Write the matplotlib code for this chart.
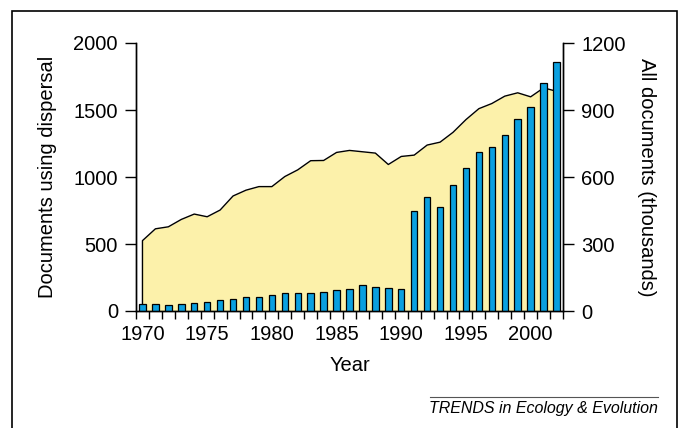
import numpy as np
import matplotlib
matplotlib.use("Agg")
import matplotlib.pyplot as plt
from matplotlib.patches import Rectangle
from matplotlib.lines import Line2D

plt.rcParams['font.family'] = ['Liberation Sans', 'DejaVu Sans']

# --- DATA ---
years = list(range(1970, 2003))
dispersal_docs = [55, 50, 45, 50, 57, 67, 85, 90, 102, 105, 122, 135, 135, 137,
                  145, 160, 167, 192, 180, 172, 162, 744, 854, 779, 941, 1064,
                  1184, 1224, 1316, 1431, 1523, 1705, 1860]
all_docs = [315, 368, 377, 410, 434, 422, 452, 515, 541, 557, 557, 602, 632,
            673, 674, 710, 719, 713, 707, 656, 692, 698, 743, 756, 800, 857,
            906, 929, 962, 977, 959, 999, 984]
tick_years = [1970, 1975, 1980, 1985, 1990, 1995, 2000]

FS = 14.5


def main():
    fig = plt.figure(figsize=(6.83, 4.28), dpi=100)
    ax = fig.add_axes([136 / 683, 1 - 311 / 428, 427 / 683, 268 / 428])
    ax2 = ax.twinx()

    # area (right axis) drawn behind bars
    ax2.set_zorder(0)
    ax.set_zorder(1)
    ax.patch.set_visible(False)
    ax2.fill_between(years, all_docs, 0, color='#fcf1aa', linewidth=0)
    ax2.plot([years[0]] + years, [0] + all_docs, color='black', linewidth=1.0)
    ax2.set_ylim(0, 1200)
    ax2.set_yticks([0, 300, 600, 900, 1200])

    # bars (left axis)
    ax.bar(years, dispersal_docs, width=0.5, color='#0aa0e0',
           edgecolor='black', linewidth=0.9)
    ax.set_ylim(0, 2000)
    ax.set_yticks([0, 500, 1000, 1500, 2000])
    ax.set_xlim(1969.5, 2002.5)

    # ticks at year boundaries, labels at year centres
    ax.set_xticks(np.arange(1969.5, 2003, 1.0))
    ax.set_xticklabels([])
    ax.set_xticks(tick_years, minor=True)
    ax.set_xticklabels([str(y) for y in tick_years], minor=True)
    ax.tick_params(axis='x', which='major', length=6, width=1, direction='out')
    ax.tick_params(axis='x', which='minor', length=0, labelsize=FS, pad=10)
    ax.tick_params(axis='y', length=8, width=1, labelsize=FS, pad=5)
    ax2.tick_params(axis='y', length=8, width=1, labelsize=FS, pad=5)

    for a in (ax, ax2):
        a.spines['top'].set_visible(False)
        for s in ('left', 'right', 'bottom'):
            a.spines[s].set_linewidth(1.0)

    ax.set_xlabel("Year", fontsize=FS, labelpad=9)
    ax.set_ylabel("Documents using dispersal", fontsize=FS, labelpad=12)
    ax2.set_ylabel("All documents (thousands)", fontsize=FS, rotation=270,
                   labelpad=22)

    # frame and footer
    fig.patches.append(Rectangle((12 / 683, -0.01), (677 - 12) / 683, 1.01 - 11 / 428,
                                 transform=fig.transFigure, fill=False,
                                 edgecolor='black', linewidth=1.2))
    fig.lines.append(Line2D([430 / 683, 658 / 683], [1 - 397 / 428, 1 - 397 / 428],
                            transform=fig.transFigure, color='#555555', linewidth=0.8))
    fig.text(658 / 683, 1 - 408 / 428, "TRENDS in Ecology & Evolution",
             ha='right', va='center', fontsize=11.5, style='italic')

    fig.savefig("out.png", dpi=100)


if __name__ == "__main__":
    main()
